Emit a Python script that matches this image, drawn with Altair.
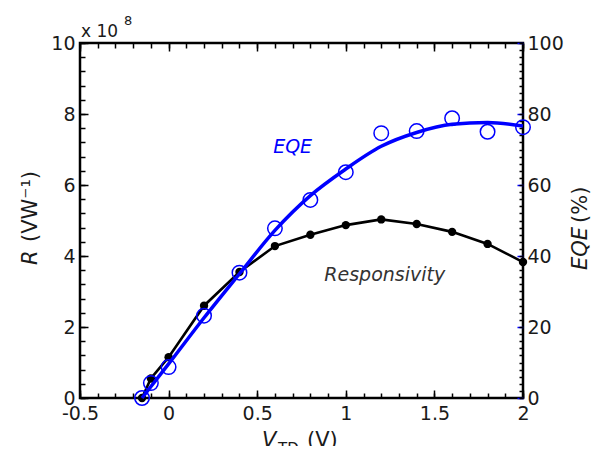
import altair as alt
import pandas as pd

# ---- data ----
V_R = [-0.15, -0.1, 0.0, 0.2, 0.4, 0.6, 0.8, 1.0, 1.2, 1.4, 1.6, 1.8, 2.0]
R_1E8 = [0.0, 0.55, 1.15, 2.6, 3.55, 4.28, 4.6, 4.87, 5.03, 4.9, 4.68, 4.34, 3.83]

V_EQE = [-0.15, -0.1, 0.0, 0.2, 0.4, 0.6, 0.8, 1.0, 1.2, 1.4, 1.6, 1.8, 2.0]
EQE = [0.0, 4.2, 8.7, 23.2, 35.3, 47.8, 55.8, 63.6, 74.6, 75.2, 78.8, 75.0, 76.3]

V_FIT = [-0.15, 0.0, 0.2, 0.4, 0.6, 0.8, 1.0, 1.2, 1.4, 1.6, 1.8, 2.0]
EQE_FIT = [0.0, 9.6, 22.6, 35.0, 47.2, 57.0, 64.5, 70.9, 74.8, 77.1, 77.6, 76.6]

X_LABELS = [-0.5, 0, 0.5, 1, 1.5, 2]
R_LABELS = [0, 2, 4, 6, 8, 10]
EQE_LABELS = [0, 20, 40, 60, 80, 100]
X_MINOR = [round(-0.5 + 0.1 * i, 2) for i in range(26)]
R_MINOR = [round(0.4 * i, 2) for i in range(26)]
EQE_MINOR = [2 * i for i in range(51)]

ANN_EQE = {"x": [0.70], "y": [70.7], "t": ["EQE"]}
ANN_R = {"x": [1.22], "y": [3.46], "t": ["Responsivity"]}

W, H = 443, 355
FONT = "DejaVu Sans"
LBL = "#1a1a1a"
BLUE = "#0000ff"

xscale = alt.Scale(domain=[-0.5, 2], nice=False, zero=False)
rscale = alt.Scale(domain=[0, 10], nice=False, zero=False)
escale = alt.Scale(domain=[0, 100], nice=False, zero=False)

base = dict(domain=False, grid=False, title=None, tickWidth=1.5)
lab = dict(labelFontSize=19, labelOverlap=False, labelFlush=False,
           labelColor=LBL, labelFont=FONT)

# inward ticks: each axis is pulled inside the frame by its own tick length
xb_major = alt.Axis(orient="bottom", values=X_LABELS, offset=-8, tickSize=8,
                    tickColor="black", labelPadding=6,
                    labelExpr="datum.value < 0 ? '-' + format(-datum.value, '~g') : format(datum.value, '~g')",
                    **base, **lab)
xb_minor = alt.Axis(orient="bottom", values=X_MINOR, offset=-5, tickSize=5,
                    tickColor="black", labels=False, **base)
xt_major = alt.Axis(orient="top", values=X_LABELS, offset=-8, tickSize=8,
                    tickColor="black", labels=False, **base)
xt_minor = alt.Axis(orient="top", values=X_MINOR, offset=-5, tickSize=5,
                    tickColor="black", labels=False, **base)
yl_major = alt.Axis(orient="left", values=R_LABELS, offset=-8, tickSize=8,
                    tickColor="black", labelPadding=5,
                    labelExpr="format(datum.value, '~g')", **base, **lab)
yl_minor = alt.Axis(orient="left", values=R_MINOR, offset=-5, tickSize=5,
                    tickColor="black", labels=False, **base)
yr_major = alt.Axis(orient="right", values=EQE_LABELS, offset=-6, tickSize=6,
                    tickColor=BLUE, labelPadding=4,
                    labelExpr="format(datum.value, '~g')", **base, **lab)
yr_minor = alt.Axis(orient="right", values=EQE_MINOR, offset=-4, tickSize=4,
                    tickColor="black", labels=False, **base)

dfR = pd.DataFrame({"V": V_R, "R": R_1E8})
dfE = pd.DataFrame({"V": V_EQE, "E": EQE})
dfF = pd.DataFrame({"V": V_FIT, "E": EQE_FIT})

def label(txt, x, y, size, **kw):
    return alt.Chart(pd.DataFrame({"t": [txt]})).mark_text(
        font=FONT, fontSize=size, align="left", baseline="alphabetic", **kw
    ).encode(text="t:N", x=alt.value(x), y=alt.value(y))

r_line = alt.Chart(dfR).mark_line(color="black", strokeWidth=2.6).encode(
    x=alt.X("V:Q", scale=xscale, axis=xb_major),
    y=alt.Y("R:Q", scale=rscale, axis=yl_major))
r_pts = alt.Chart(dfR).mark_circle(color="black", size=70, opacity=1).encode(
    x=alt.X("V:Q", scale=xscale, axis=xb_minor),
    y=alt.Y("R:Q", scale=rscale, axis=yl_minor))
r_ann = alt.Chart(pd.DataFrame(ANN_R)).mark_text(
    font=FONT, fontSize=19, fontStyle="italic", color="#333333"
).encode(x=alt.X("x:Q", scale=xscale, axis=None),
         y=alt.Y("y:Q", scale=rscale, axis=None), text="t:N")

e_fit = alt.Chart(dfF).mark_line(color=BLUE, strokeWidth=3.5, interpolate="monotone").encode(
    x=alt.X("V:Q", scale=xscale, axis=xt_major),
    y=alt.Y("E:Q", scale=escale, axis=yr_major))
e_pts = alt.Chart(dfE).mark_point(shape="circle", filled=False, color=BLUE, size=210,
                                  strokeWidth=1.5, opacity=1).encode(
    x=alt.X("V:Q", scale=xscale, axis=xt_minor),
    y=alt.Y("E:Q", scale=escale, axis=yr_minor))
e_ann = alt.Chart(pd.DataFrame(ANN_EQE)).mark_text(
    font=FONT, fontSize=19, fontStyle="italic", color=BLUE
).encode(x=alt.X("x:Q", scale=xscale, axis=None),
         y=alt.Y("y:Q", scale=escale, axis=None), text="t:N")

chart = alt.layer(
    r_line, r_pts, r_ann,
    e_fit, e_pts, e_ann,
    label("x 10", 1, -6, 17, color=LBL),
    label("8", 44, -18, 13, color=LBL),
    label("R", -43, 222, 21, angle=270, fontStyle="italic", color=LBL),
    label("(VW\u207b\u00b9)", -43, 199, 21, angle=270, color=LBL),
    label("EQE", 507, 227, 21, angle=270, fontStyle="italic", color=LBL),
    label("(%)", 507, 180, 21, angle=270, color=LBL),
    label("V", 182, 404, 21, fontStyle="italic", color=LBL),
    label("TD", 198, 411, 15, color=LBL),
    label("(V)", 227, 404, 21, color=LBL),
).resolve_scale(y="independent").resolve_axis(x="independent", y="independent").properties(
    width=W, height=H,
    autosize=alt.AutoSizeParams(type="none"),
    padding={"left": 72, "top": 35, "right": 68, "bottom": 48},
).configure_view(stroke="black", strokeWidth=2.5)

chart.save("out.html", embed_options={"renderer": "svg", "actions": False})
